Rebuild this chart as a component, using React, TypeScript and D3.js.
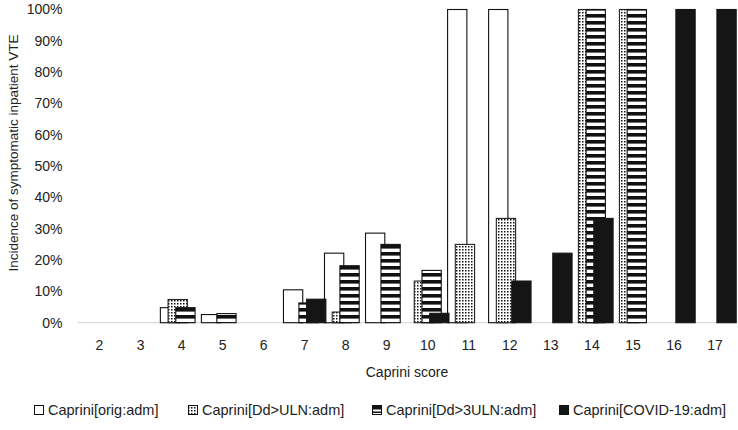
import React from "react";
import * as d3 from "d3";

const categories = ["2", "3", "4", "5", "6", "7", "8", "9", "10", "11", "12", "13", "14", "15", "16", "17"];
const seriesNames = ["Caprini[orig:adm]", "Caprini[Dd>ULN:adm]", "Caprini[Dd>3ULN:adm]", "Caprini[COVID-19:adm]"];
const origValues = [0, 0, 4.8, 2.6, 0, 10.5, 22.2, 28.6, 0, 100, 100, 0, 0, 0, 0, 0];
const ulnValues = [0, 0, 7.4, 0, 0, 0, 3.4, 0, 13.3, 25, 33.3, 0, 100, 100, 0, 0];
const uln3Values = [0, 0, 4.8, 2.9, 0, 6.3, 18.2, 25, 16.7, 0, 0, 0, 100, 100, 0, 0];
const covidValues = [0, 0, 0, 0, 0, 7.5, 0, 0, 3.0, 0, 13.3, 22.2, 33.3, 0, 100, 100];
const yTicks = [0, 10, 20, 30, 40, 50, 60, 70, 80, 90, 100];

const W = 738;
const H = 430;
const FONT = "'Liberation Sans', Arial, sans-serif";
const TXT = "#222";

export default function App() {
  const series = [origValues, ulnValues, uln3Values, covidValues];
  const fills = ["#ffffff", "url(#dots)", "url(#stripes)", "#151515"];
  const strokes = ["#111", "#222", "#111", "#151515"];

  const x = d3.scaleBand<string>().domain(categories).range([79, 735.5]).padding(0);
  const y = d3.scaleLinear().domain([0, 100]).range([322.7, 9.5]);
  const barW = x.bandwidth() * 0.47;
  const offset = barW * 0.4;
  const groupW = barW + offset * 3;
  const sx = d3.scaleLinear().domain([0, 3]).range([-groupW / 2, -groupW / 2 + offset * 3]);

  const legendX = [34, 188, 372, 559];

  return (
    <svg width={W} height={H} style={{ position: "absolute", left: 0, top: 0, background: "#fff" }} fontFamily={FONT}>
      <defs>
        <pattern id="dots" patternUnits="userSpaceOnUse" width={3} height={3}>
          <rect width={3} height={3} fill="#fff" />
          <rect x={0} y={0} width={1.5} height={1.5} fill="#111" />
        </pattern>
        <pattern id="stripes" patternUnits="userSpaceOnUse" width={7} height={7}>
          <rect width={7} height={7} fill="#fff" />
          <rect x={0} y={0} width={7} height={3.6} fill="#111" />
        </pattern>
      </defs>

      {/* axis line */}
      <line x1={78} x2={737} y1={y(0)} y2={y(0)} stroke="#d9d9d9" strokeWidth={1.2} />

      {/* y tick labels */}
      {yTicks.map((t) => (
        <text key={t} x={62.5} y={y(t)} dy="0.35em" textAnchor="end" fontSize={14} fill={TXT}>
          {t}%
        </text>
      ))}

      {/* x tick labels */}
      {categories.map((c) => (
        <text key={c} x={(x(c) ?? 0) + x.bandwidth() / 2} y={345} dy="0.35em" textAnchor="middle" fontSize={14} fill={TXT}>
          {c}
        </text>
      ))}

      {/* bars */}
      {series.map((vals, si) => (
        <g key={si}>
          {vals.map((v, i) => {
            if (v <= 0) return null;
            const cx = (x(categories[i]) ?? 0) + x.bandwidth() / 2;
            const x0 = cx + sx(si);
            return (
              <rect
                key={i}
                x={x0}
                y={y(v)}
                width={barW}
                height={y(0) - y(v)}
                fill={fills[si]}
                stroke={strokes[si]}
                strokeWidth={1.1}
              />
            );
          })}
        </g>
      ))}

      {/* axis titles */}
      <text x={407} y={372} dy="0.35em" textAnchor="middle" fontSize={14} fill={TXT}>
        Caprini score
      </text>
      <text transform={`translate(13,153) rotate(-90)`} textAnchor="middle" dy="0.35em" fontSize={13.5} fill={TXT}>
        Incidence of symptomatic inpatient VTE
      </text>

      {/* legend */}
      {seriesNames.map((n, i) => (
        <g key={n} transform={`translate(${legendX[i]},410)`}>
          <rect x={0.5} y={-4.5} width={9} height={9} fill={i === 1 ? "url(#dots)" : i === 2 ? "#fff" : fills[i]} stroke="#111" strokeWidth={1} />
          {i === 2 && <rect x={0.5} y={-4.5} width={9} height={4} fill="#111" />}
          {i === 2 && <rect x={0.5} y={1.5} width={9} height={1.5} fill="#111" />}
          <text x={14} y={0} dy="0.35em" fontSize={14.5} fill={TXT}>
            {n}
          </text>
        </g>
      ))}
    </svg>
  );
}
